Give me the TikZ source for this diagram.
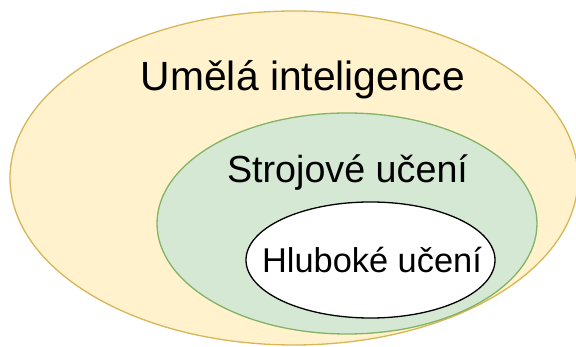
\documentclass[tikz,border=0pt]{standalone}
\usepackage{fontspec}
\setmainfont{Liberation Sans}
\usetikzlibrary{shapes.geometric}
\definecolor{aiFill}{HTML}{FFF2CC}
\definecolor{aiLine}{HTML}{D6B656}
\definecolor{mlFill}{HTML}{D5E8D4}
\definecolor{mlLine}{HTML}{82B366}
\tikzset{
  setshape/.style={ellipse, inner sep=0pt, line width=1.3pt},
  setlabel/.style={anchor=base, inner sep=0pt, text=black}
}
\begin{document}
\begin{tikzpicture}[x=1pt, y=1pt]
  \useasboundingbox (0,0) rectangle (576,347);
  % nested sets, outermost first
  \node[setshape, draw=aiLine, fill=aiFill, minimum width=568pt, minimum height=334pt] (ai) at (294,169) {};
  \node[setshape, draw=mlLine, fill=mlFill, minimum width=380pt, minimum height=221pt] (ml) at (347,123.5) {};
  \node[setshape, draw=black, fill=white, minimum width=249pt, minimum height=116pt] (dl) at (370.5,87) {};
  % labels
  \node[setlabel, font=\fontsize{40.8}{44}\selectfont] (aiText) at (303,256) {Umělá inteligence};
  \node[setlabel, font=\fontsize{37.7}{41}\selectfont] (mlText) at (347.5,164) {Strojové učení};
  \node[setlabel, font=\fontsize{34.4}{38}\selectfont] (dlText) at (372,74) {Hluboké učení};
\end{tikzpicture}
\end{document}
